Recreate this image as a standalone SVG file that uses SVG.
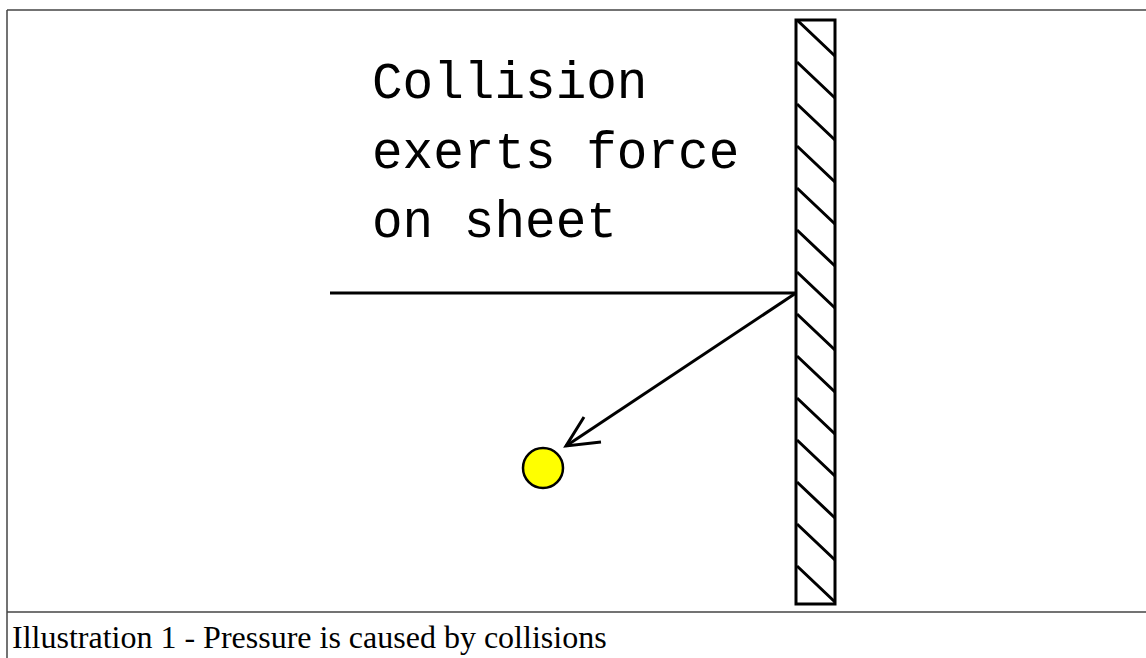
<svg xmlns="http://www.w3.org/2000/svg" width="1146" height="658" viewBox="0 0 1146 658">
<style>
.frame{stroke:#444;stroke-width:1.5;fill:none}
.ink{stroke:#000;stroke-width:3;fill:none}
.hatch{stroke:#000;stroke-width:3}
.mono{font-family:"Liberation Mono","Courier New",monospace;font-size:51px;fill:#000}
.cap{font-family:"Liberation Serif","Times New Roman",serif;font-size:32px;fill:#000}
</style>
<defs>
<clipPath id="wallclip"><rect x="797" y="20" width="38" height="584"/></clipPath>
</defs>
<rect width="1146" height="658" fill="#fff"/>
<g id="frame">
<line class="frame" x1="7" y1="10" x2="1146" y2="10"/>
<line class="frame" x1="7" y1="10" x2="7" y2="658"/>
<line class="frame" x1="7" y1="612" x2="1146" y2="612"/>
</g>
<g id="wall">
<g clip-path="url(#wallclip)">
<path class="hatch" d="M797 20 L835 56 M797 62 L835 98 M797 104 L835 140 M797 146 L835 182 M797 188 L835 224 M797 230 L835 266 M797 272 L835 308 M797 314 L835 350 M797 356 L835 392 M797 398 L835 434 M797 440 L835 476 M797 482 L835 518 M797 524 L835 560 M797 566 L835 602"/>
</g>
<rect class="ink" x="796" y="20" width="39" height="584"/>
</g>
<g id="label">
<text class="mono" x="372" y="98">Collision</text>
<text class="mono" x="372" y="168">exerts force</text>
<text class="mono" x="372" y="237">on sheet</text>
</g>
<g id="connectors">
<line class="ink" x1="330" y1="293" x2="796" y2="293"/>
<line class="ink" x1="796" y1="293" x2="566" y2="446"/>
<polyline class="ink" points="584,417 566,446 601,442"/>
</g>
<g id="particle">
<circle cx="543" cy="468" r="20" fill="#ffff00" stroke="#000" stroke-width="2.5"/>
</g>
<g id="caption">
<text class="cap" x="12" y="648">Illustration 1 - Pressure is caused by collisions</text>
</g>
</svg>
